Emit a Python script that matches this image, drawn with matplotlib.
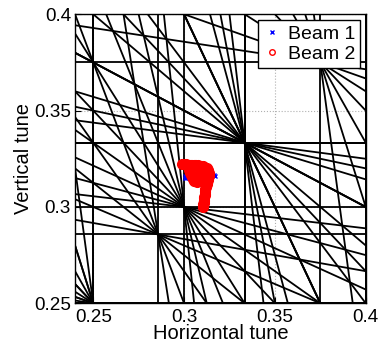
import numpy as np
import matplotlib
matplotlib.use("Agg")
import matplotlib.pyplot as plt

plt.rcParams['font.family'] = ['Liberation Sans', 'DejaVu Sans']

# Axis limits and ticks
x_limits = [0.24, 0.40]
y_limits = [0.25, 0.40]
x_ticks = [0.25, 0.30, 0.35, 0.40]
x_tick_labels = ['0.25', '0.3', '0.35', '0.4']
y_ticks = [0.25, 0.30, 0.35, 0.40]
y_tick_labels = ['0.25', '0.3', '0.35', '0.4']
max_order = 10

# Beam 1 tunes (blue crosses)
beam1_qx = [0.3003, 0.3010, 0.3005, 0.3015, 0.3025, 0.3035, 0.3050, 0.3070,
            0.3090, 0.3110, 0.3130, 0.3150, 0.3165, 0.3170]
beam1_qy = [0.3148, 0.3152, 0.3160, 0.3165, 0.3168, 0.3170, 0.3172, 0.3172,
            0.3170, 0.3168, 0.3166, 0.3165, 0.3165, 0.3162]

# Beam 2 tunes (red circles)
beam2_qx = [0.2987, 0.2994, 0.3000, 0.3008, 0.3015, 0.3023, 0.3030, 0.3038,
            0.3045, 0.3053, 0.3060, 0.3068, 0.3075, 0.3083, 0.3090, 0.3098,
            0.3105, 0.3112, 0.3118, 0.3124, 0.3128, 0.3132, 0.3134, 0.3136,
            0.3136, 0.3135, 0.3134, 0.3132, 0.3130, 0.3128, 0.3126, 0.3124,
            0.3122, 0.3120, 0.3118, 0.3117, 0.3115, 0.3114, 0.3113, 0.3112,
            0.3111, 0.3110, 0.3109, 0.3108, 0.3107, 0.3106, 0.3105,
            0.3025, 0.3030, 0.3036, 0.3042, 0.3048, 0.3055, 0.3063, 0.3071,
            0.3078, 0.3084, 0.3089, 0.3092, 0.3094, 0.3092, 0.3087]
beam2_qy = [0.3225, 0.3224, 0.3222, 0.3221, 0.3220, 0.3220, 0.3219, 0.3219,
            0.3218, 0.3218, 0.3217, 0.3216, 0.3215, 0.3214, 0.3213, 0.3212,
            0.3210, 0.3207, 0.3204, 0.3200, 0.3196, 0.3190, 0.3184, 0.3177,
            0.3170, 0.3163, 0.3156, 0.3149, 0.3141, 0.3133, 0.3125, 0.3117,
            0.3109, 0.3101, 0.3093, 0.3085, 0.3077, 0.3069, 0.3061, 0.3053,
            0.3045, 0.3037, 0.3029, 0.3021, 0.3013, 0.3006, 0.3001,
            0.3190, 0.3178, 0.3166, 0.3155, 0.3145, 0.3137, 0.3132, 0.3131,
            0.3135, 0.3142, 0.3150, 0.3160, 0.3170, 0.3180, 0.3190]

fig = plt.figure(figsize=(3.79, 3.47), dpi=100)
ax = fig.add_axes([0.198, 0.126, 0.767, 0.833])

# Resonance lines m*Qx + n*Qy = p with m, n >= 0, m + n <= max_order
xs = np.array(x_limits)
for m in range(0, max_order + 1):
    for n in range(0, max_order + 1 - m):
        if m + n == 0:
            continue
        for p in range(0, max_order + 1):
            if n == 0:
                q = p / m
                if x_limits[0] <= q <= x_limits[1]:
                    ax.plot([q, q], y_limits, color='black', lw=1.3, zorder=2)
            elif m == 0:
                q = p / n
                if y_limits[0] <= q <= y_limits[1]:
                    ax.plot(x_limits, [q, q], color='black', lw=1.3, zorder=2)
            else:
                ys = (p - m * xs) / n
                if max(ys) < y_limits[0] or min(ys) > y_limits[1]:
                    continue
                ax.plot(xs, ys, color='black', lw=1.3, zorder=2)

ax.plot(beam1_qx, beam1_qy, 'x', color='blue', markersize=3, mew=1.0,
        linestyle='none', label='Beam 1', zorder=4)
ax.plot(beam2_qx, beam2_qy, 'o', color='red', markerfacecolor='red',
        markersize=7, mew=1.0, linestyle='none', label='Beam 2', zorder=5)

ax.set_xlim(x_limits)
ax.set_ylim(y_limits)
ax.set_xticks(x_ticks)
ax.set_xticklabels(x_tick_labels)
ax.set_yticks(y_ticks)
ax.set_yticklabels(y_tick_labels)
ax.tick_params(direction='in', labelsize=13.6, length=4, pad=4)
ax.tick_params(axis='y', pad=3)
ax.grid(True, linestyle=':', color='#b0b0b0', lw=0.8, zorder=0)
ax.set_axisbelow(True)
for s in ax.spines.values():
    s.set_linewidth(1.0)
    s.set_zorder(6)

ax.set_xlabel('Horizontal tune', fontsize=14.5, labelpad=-1)
ax.set_ylabel('Vertical tune', fontsize=14.5, labelpad=1)

leg = ax.legend(loc='upper right', fontsize=14, frameon=True, fancybox=False,
                edgecolor='black', framealpha=1, borderpad=0.25,
                handletextpad=0.3, handlelength=1.0, borderaxespad=0.3,
                labelspacing=0.15)
leg.get_frame().set_linewidth(1.0)
leg.set_zorder(10)
h = leg.legend_handles
h[1].set_markerfacecolor('white')
h[1].set_markersize(4)
h[0].set_markersize(3)

fig.savefig('out.png', dpi=100)
